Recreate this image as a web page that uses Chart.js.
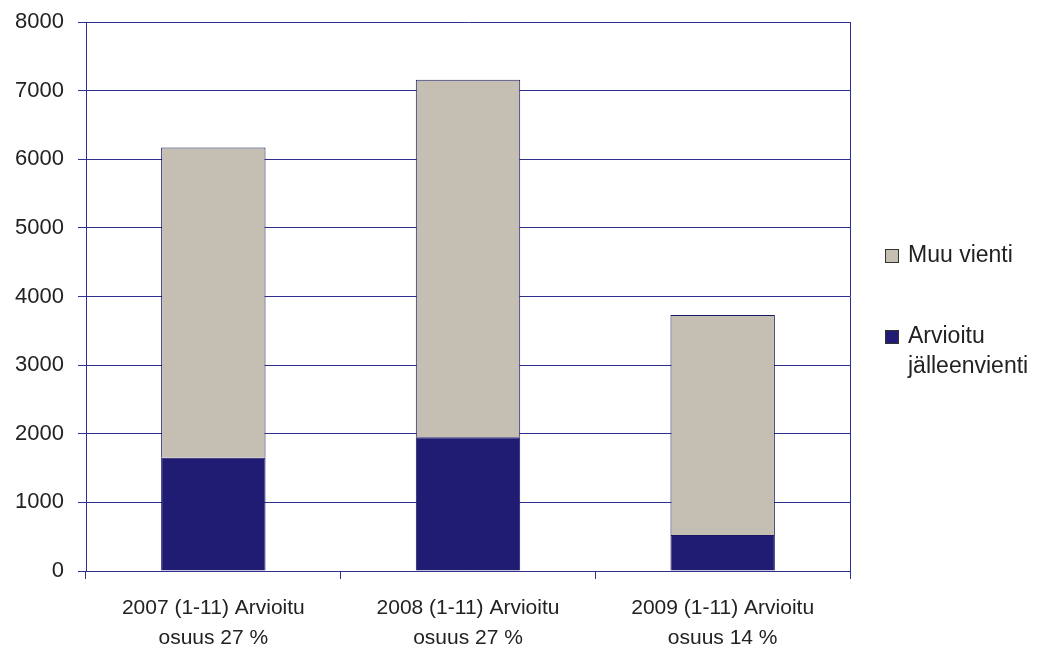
<!DOCTYPE html>
<html>
<head>
<meta charset="utf-8">
<script src="https://cdn.jsdelivr.net/npm/chart.js@4/dist/chart.umd.min.js"></script>
<style>
  html, body { margin: 0; padding: 0; background: #fff; }
  #wrap { width: 1037px; height: 648px; position: relative; }
</style>
</head>
<body>
<div id="wrap"><canvas id="exportChart"></canvas></div>
<script>
const categories = [
  ["2007 (1-11) Arvioitu", "osuus 27 %"],
  ["2008 (1-11) Arvioitu", "osuus 27 %"],
  ["2009 (1-11) Arvioitu", "osuus 14 %"]
];
const reExport = [1650, 1950, 525];
const otherExport = [4520, 5210, 3205];
const yTicks = [0, 1000, 2000, 3000, 4000, 5000, 6000, 7000, 8000];

const navy = "#2e2e8c";
const textColor = "#222";
const fontFamily = "Arial, 'Liberation Sans', sans-serif";

// legend on the right, drawn by hand (labels wrap to two lines)
const sideLegend = {
  id: "sideLegend",
  afterDraw(chart) {
    const c = chart.ctx;
    const items = [
      { lines: ["Muu vienti"], color: "#c5bfb3", y: 256 },
      { lines: ["Arvioitu", "jälleenvienti"], color: "#201c74", y: 337 }
    ];
    c.save();
    c.font = "23px " + fontFamily;
    c.textBaseline = "middle";
    items.forEach(it => {
      c.fillStyle = it.color;
      c.fillRect(885, it.y - 7, 14, 14);
      c.strokeStyle = "#333";
      c.lineWidth = 1;
      c.strokeRect(885.5, it.y - 6.5, 13, 13);
      c.fillStyle = textColor;
      it.lines.forEach((l, i) => c.fillText(l, 908, it.y + i * 30));
    });
    // right border of plot area
    const a = chart.chartArea;
    c.strokeStyle = navy;
    c.beginPath();
    c.moveTo(Math.round(a.right) + 0.5, a.top);
    c.lineTo(Math.round(a.right) + 0.5, a.bottom);
    c.stroke();
    c.restore();
  }
};

new Chart(document.getElementById("exportChart"), {
  type: "bar",
  data: {
    labels: categories,
    datasets: [
      {
        label: "Arvioitu jälleenvienti",
        data: reExport,
        backgroundColor: "#201c74",
        borderColor: "#1a1866",
        borderWidth: 1
      },
      {
        label: "Muu vienti",
        data: otherExport,
        backgroundColor: "#c5bfb3",
        borderColor: "#1a1866",
        borderWidth: 1
      }
    ]
  },
  options: {
    responsive: true,
    maintainAspectRatio: false,
    animation: false,
    layout: { padding: { left: 0, right: 187, top: 22, bottom: 0 } },
    plugins: {
      legend: { display: false },
      tooltip: { enabled: false }
    },
    datasets: { bar: { categoryPercentage: 1, barPercentage: 0.41 } },
    scales: {
      x: {
        stacked: true,
        afterFit: s => { s.height = 77; },
        grid: { offset: true, drawOnChartArea: false, drawTicks: true, tickLength: 8, color: navy },
        border: { color: navy },
        ticks: { color: textColor, padding: 15, font: { family: fontFamily, size: 21, lineHeight: 1.4 } }
      },
      y: {
        stacked: true,
        min: 0,
        max: 8000,
        afterFit: s => { s.width = 86; s.paddingTop = 0; s.paddingBottom = 0; },
        afterBuildTicks: s => { s.ticks = yTicks.map(v => ({ value: v })); },
        grid: { color: navy, tickLength: 8 },
        border: { color: navy },
        ticks: {
          color: textColor,
          padding: 14,
          font: { family: fontFamily, size: 22 },
          callback: v => String(v)
        }
      }
    }
  },
  plugins: [sideLegend]
});
</script>
</body>
</html>
